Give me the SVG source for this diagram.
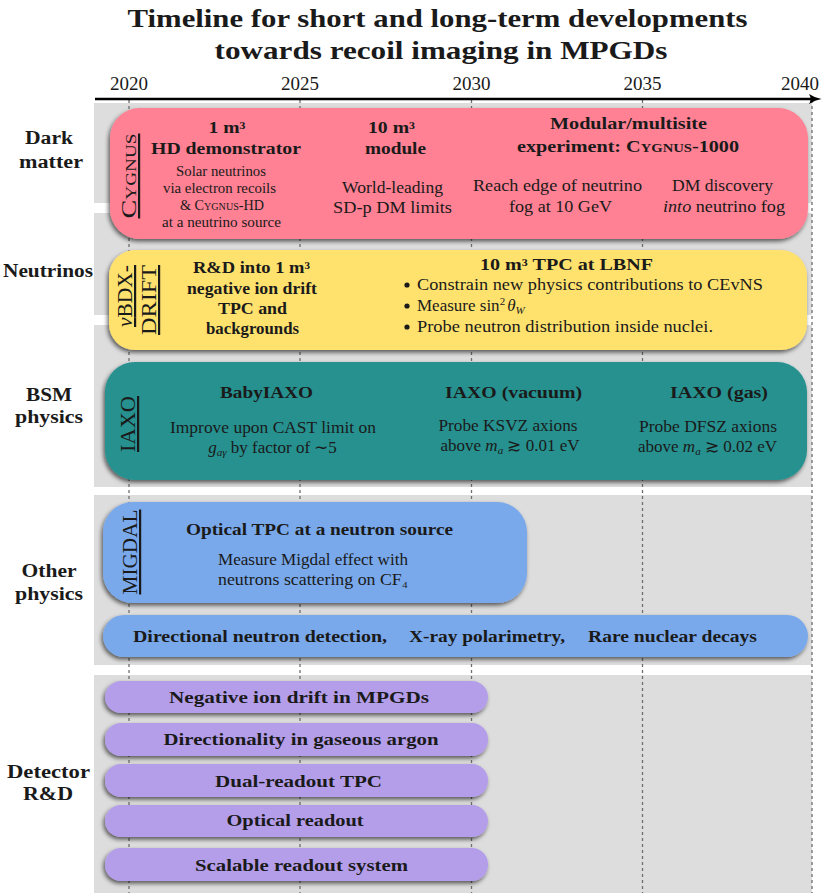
<svg xmlns="http://www.w3.org/2000/svg" width="822" height="893" viewBox="0 0 822 893">
<defs>
<style>
.t{font-family:"Liberation Serif","Times New Roman",serif;fill:#1a1a1a}
.b{font-weight:bold}
.c{text-anchor:middle}
.h{font-size:16.5px;font-weight:bold}
.r{font-size:16.5px}
.s{font-size:14px}
.lab{font-size:18px;font-weight:bold;text-anchor:middle}
.v{font-size:22px;text-anchor:middle;text-decoration:underline}
.sc{font-variant:small-caps}
.panel{fill:#dddddd}
.grid{stroke:#6e6e6e;stroke-width:1.3;stroke-dasharray:3 3}
.box{filter:url(#sh)}
</style>
<filter id="sh" x="-10%" y="-15%" width="120%" height="140%">
<feDropShadow dx="-1.5" dy="2.5" stdDeviation="2" flood-color="#000" flood-opacity="0.6"/>
</filter>
</defs>
<rect width="822" height="893" fill="#ffffff"/>
<!-- title -->
<g id="title">
<text class="t b c" x="437.5" y="27" font-size="26" textLength="620" lengthAdjust="spacingAndGlyphs">Timeline for short and long-term developments</text>
<text class="t b c" x="441" y="59" font-size="26" textLength="453" lengthAdjust="spacingAndGlyphs">towards recoil imaging in MPGDs</text>
</g>
<!-- background panels -->
<g id="panels">
<rect class="panel" x="94" y="103" width="718" height="100"/>
<rect class="panel" x="94" y="213" width="718" height="102"/>
<rect class="panel" x="94" y="325" width="718" height="162"/>
<rect class="panel" x="94" y="495" width="718" height="170"/>
<rect class="panel" x="94" y="675" width="718" height="218"/>
</g>
<!-- axis and gridlines -->
<g id="axis">
<line class="grid" x1="129" y1="100" x2="129" y2="893"/>
<line class="grid" x1="300" y1="100" x2="300" y2="893"/>
<line class="grid" x1="471.5" y1="100" x2="471.5" y2="893"/>
<line class="grid" x1="642.5" y1="100" x2="642.5" y2="893"/>
<line class="grid" x1="812" y1="100" x2="812" y2="893"/>
<line x1="95" y1="99" x2="815" y2="99" stroke="#000" stroke-width="2.5"/>
<path d="M809,94 Q815,98 821.5,99 Q815,100 809,104 Q812,99 809,94Z" fill="#000"/>
<text class="t c" x="129" y="90" font-size="19" textLength="38" lengthAdjust="spacingAndGlyphs">2020</text>
<text class="t c" x="300" y="90" font-size="19" textLength="38" lengthAdjust="spacingAndGlyphs">2025</text>
<text class="t c" x="471.5" y="90" font-size="19" textLength="38" lengthAdjust="spacingAndGlyphs">2030</text>
<text class="t c" x="642.5" y="90" font-size="19" textLength="38" lengthAdjust="spacingAndGlyphs">2035</text>
<text class="t c" x="800" y="90" font-size="19" textLength="38" lengthAdjust="spacingAndGlyphs">2040</text>
</g>
<!-- row labels -->
<g id="rowlabels">
<text class="t lab" x="49" y="144" textLength="48" lengthAdjust="spacingAndGlyphs">Dark</text>
<text class="t lab" x="51" y="168" textLength="64" lengthAdjust="spacingAndGlyphs">matter</text>
<text class="t lab" x="48" y="277" textLength="90" lengthAdjust="spacingAndGlyphs">Neutrinos</text>
<text class="t lab" x="49" y="401" textLength="46" lengthAdjust="spacingAndGlyphs">BSM</text>
<text class="t lab" x="49" y="423" textLength="68" lengthAdjust="spacingAndGlyphs">physics</text>
<text class="t lab" x="49" y="577" textLength="55" lengthAdjust="spacingAndGlyphs">Other</text>
<text class="t lab" x="49" y="600" textLength="68" lengthAdjust="spacingAndGlyphs">physics</text>
<text class="t lab" x="48.5" y="778" textLength="83" lengthAdjust="spacingAndGlyphs">Detector</text>
<text class="t lab" x="48" y="800" textLength="50" lengthAdjust="spacingAndGlyphs">R&amp;D</text>
</g>
<!-- CYGNUS -->
<g id="cygnus">
<rect class="box" x="110" y="108" width="698" height="131" rx="30" fill="#ff8193"/>
<text class="t v sc" transform="translate(136,176) rotate(-90)" font-size="23" textLength="85" lengthAdjust="spacingAndGlyphs">Cygnus</text>
<text class="t h c" x="227" y="133" textLength="37" lengthAdjust="spacingAndGlyphs">1 m³</text>
<text class="t h c" x="226" y="154" textLength="150" lengthAdjust="spacingAndGlyphs">HD demonstrator</text>
<text class="t s c" x="221" y="176" textLength="90" lengthAdjust="spacingAndGlyphs">Solar neutrinos</text>
<text class="t s c" x="219.5" y="193" textLength="113" lengthAdjust="spacingAndGlyphs">via electron recoils</text>
<text class="t s c" x="222" y="210" textLength="84" lengthAdjust="spacingAndGlyphs">&amp; <tspan class="sc">Cygnus</tspan>-HD</text>
<text class="t s c" x="221.5" y="227" textLength="119" lengthAdjust="spacingAndGlyphs">at a neutrino source</text>
<text class="t h c" x="391.5" y="133" textLength="47" lengthAdjust="spacingAndGlyphs">10 m³</text>
<text class="t h c" x="395.5" y="154" textLength="61" lengthAdjust="spacingAndGlyphs">module</text>
<text class="t r c" x="392.5" y="193" textLength="101" lengthAdjust="spacingAndGlyphs">World-leading</text>
<text class="t r c" x="392.5" y="213" textLength="119" lengthAdjust="spacingAndGlyphs">SD-p DM limits</text>
<text class="t h c" x="628.5" y="129" textLength="157" lengthAdjust="spacingAndGlyphs">Modular/multisite</text>
<text class="t h c" x="628" y="152" textLength="222" lengthAdjust="spacingAndGlyphs">experiment: <tspan class="sc">Cygnus</tspan>-1000</text>
<text class="t r c" x="557.5" y="191" textLength="169" lengthAdjust="spacingAndGlyphs">Reach edge of neutrino</text>
<text class="t r c" x="560.5" y="212" textLength="103" lengthAdjust="spacingAndGlyphs">fog at 10 GeV</text>
<text class="t r c" x="722.5" y="191" textLength="101" lengthAdjust="spacingAndGlyphs">DM discovery</text>
<text class="t r c" x="724" y="212" textLength="122" lengthAdjust="spacingAndGlyphs"><tspan font-style="italic">into</tspan> neutrino fog</text>
</g>
<!-- nuBDX-DRIFT -->
<g id="nubdx">
<rect class="box" x="109" y="250" width="698" height="100" rx="26" fill="#ffe26e"/>
<text class="t v" transform="translate(132,296) rotate(-90)" textLength="62" lengthAdjust="spacingAndGlyphs"><tspan font-style="italic">ν</tspan>BDX-</text>
<text class="t v" transform="translate(156,300) rotate(-90)" textLength="70" lengthAdjust="spacingAndGlyphs">DRIFT</text>
<text class="t h c" x="251.5" y="273" textLength="117" lengthAdjust="spacingAndGlyphs">R&amp;D into 1 m³</text>
<text class="t h c" x="252" y="294" textLength="130" lengthAdjust="spacingAndGlyphs">negative ion drift</text>
<text class="t h c" x="252.5" y="314" textLength="69" lengthAdjust="spacingAndGlyphs">TPC and</text>
<text class="t h c" x="252.5" y="334" textLength="93" lengthAdjust="spacingAndGlyphs">backgrounds</text>
<text class="t h c" x="566.5" y="270" textLength="173" lengthAdjust="spacingAndGlyphs">10 m³ TPC at LBNF</text>
<circle cx="407" cy="285" r="2.6" fill="#1a1a1a"/>
<circle cx="407" cy="306" r="2.6" fill="#1a1a1a"/>
<circle cx="407" cy="327" r="2.6" fill="#1a1a1a"/>
<text class="t r" x="417" y="290" textLength="346" lengthAdjust="spacingAndGlyphs">Constrain new physics contributions to CEvNS</text>
<text class="t" x="417" y="311" font-size="17">Measure sin<tspan font-size="11" dy="-6">2</tspan><tspan dy="6" dx="2" font-style="italic">θ</tspan><tspan font-size="11" dy="3" font-style="italic">W</tspan></text>
<text class="t r" x="417" y="332" textLength="296" lengthAdjust="spacingAndGlyphs">Probe neutron distribution inside nuclei.</text>
</g>
<!-- IAXO -->
<g id="iaxo">
<rect class="box" x="105" y="362" width="702" height="118" rx="30" fill="#25918f"/>
<text class="t v" transform="translate(135,424) rotate(-90)" textLength="56" lengthAdjust="spacingAndGlyphs">IAXO</text>
<text class="t h c" x="266.5" y="398" textLength="93" lengthAdjust="spacingAndGlyphs">BabyIAXO</text>
<text class="t r c" x="273" y="433" textLength="206" lengthAdjust="spacingAndGlyphs">Improve upon CAST limit on</text>
<text class="t c" x="272.5" y="453" font-size="17"><tspan font-style="italic">g</tspan><tspan font-size="11" dy="3" font-style="italic">aγ</tspan><tspan dy="-3"> by factor of ∼5</tspan></text>
<text class="t h c" x="513.5" y="398" textLength="137" lengthAdjust="spacingAndGlyphs">IAXO (vacuum)</text>
<text class="t r c" x="508" y="431" textLength="139" lengthAdjust="spacingAndGlyphs">Probe KSVZ axions</text>
<text class="t c" x="510" y="451" font-size="17">above <tspan font-style="italic">m</tspan><tspan font-size="11" dy="3" font-style="italic">a</tspan><tspan dy="-3"> ≳ 0.01 eV</tspan></text>
<text class="t h c" x="719" y="398" textLength="98" lengthAdjust="spacingAndGlyphs">IAXO (gas)</text>
<text class="t r c" x="708" y="432" textLength="138" lengthAdjust="spacingAndGlyphs">Probe DFSZ axions</text>
<text class="t c" x="707.5" y="452" font-size="17">above <tspan font-style="italic">m</tspan><tspan font-size="11" dy="3" font-style="italic">a</tspan><tspan dy="-3"> ≳ 0.02 eV</tspan></text>
</g>
<!-- MIGDAL -->
<g id="migdal">
<rect class="box" x="103" y="502" width="424" height="101" rx="30" fill="#79a9eb"/>
<text class="t v" transform="translate(137,552) rotate(-90)" textLength="85" lengthAdjust="spacingAndGlyphs">MIGDAL</text>
<text class="t h c" x="319.5" y="535" textLength="267" lengthAdjust="spacingAndGlyphs">Optical TPC at a neutron source</text>
<text class="t r c" x="313" y="565" textLength="190" lengthAdjust="spacingAndGlyphs">Measure Migdal effect with</text>
<text class="t r c" x="313" y="585" textLength="190" lengthAdjust="spacingAndGlyphs">neutrons scattering on CF₄</text>
</g>
<!-- other physics -->
<g id="otherphysics">
<rect class="box" x="103" y="615" width="705" height="42" rx="21" fill="#79a9eb"/>
<text class="t h" x="133" y="642" textLength="254" lengthAdjust="spacingAndGlyphs">Directional neutron detection,</text>
<text class="t h" x="409" y="642" textLength="156" lengthAdjust="spacingAndGlyphs">X-ray polarimetry,</text>
<text class="t h" x="588" y="642" textLength="169" lengthAdjust="spacingAndGlyphs">Rare nuclear decays</text>
</g>
<!-- detector R&D -->
<g id="nid">
<rect class="box" x="105" y="681" width="383" height="32" rx="16" fill="#b49eea"/>
<text class="t h c" x="299" y="703" textLength="260" lengthAdjust="spacingAndGlyphs">Negative ion drift in MPGDs</text>
</g>
<g id="argon">
<rect class="box" x="105" y="723" width="383" height="33" rx="16" fill="#b49eea"/>
<text class="t h c" x="301" y="745" textLength="275" lengthAdjust="spacingAndGlyphs">Directionality in gaseous argon</text>
</g>
<g id="dualtpc">
<rect class="box" x="105" y="764" width="383" height="33" rx="16" fill="#b49eea"/>
<text class="t h c" x="298.5" y="787" textLength="167" lengthAdjust="spacingAndGlyphs">Dual-readout TPC</text>
</g>
<g id="optical">
<rect class="box" x="105" y="805" width="383" height="32" rx="16" fill="#b49eea"/>
<text class="t h c" x="295" y="826" textLength="137" lengthAdjust="spacingAndGlyphs">Optical readout</text>
</g>
<g id="scalable">
<rect class="box" x="105" y="848" width="383" height="33" rx="16" fill="#b49eea"/>
<text class="t h c" x="301.5" y="871" textLength="213" lengthAdjust="spacingAndGlyphs">Scalable readout system</text>
</g>
</svg>
